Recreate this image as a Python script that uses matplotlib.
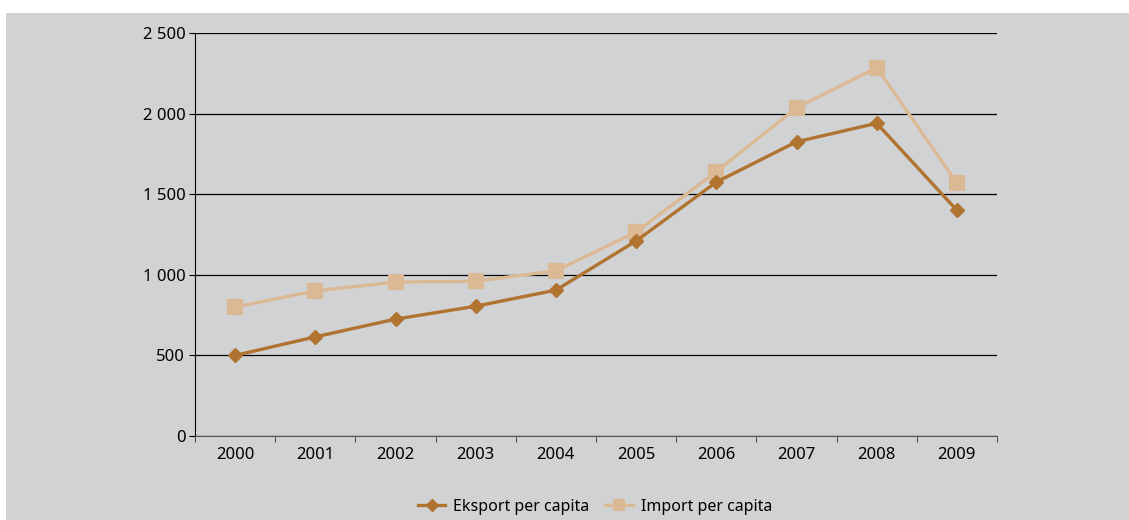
import numpy as np
import matplotlib.pyplot as plt
from matplotlib.patches import Rectangle
from matplotlib.ticker import FuncFormatter

years = ['2000', '2001', '2002', '2003', '2004', '2005', '2006', '2007', '2008', '2009']
eksport = [500, 615, 725, 805, 905, 1210, 1575, 1825, 1940, 1400]
import_ = [800, 900, 955, 960, 1025, 1265, 1640, 2035, 2285, 1570]

plt.rcParams['font.family'] = ['Noto Sans', 'DejaVu Sans']

BG = '#d1d2d4'
C_EKS = '#b07330'
C_IMP = '#dcb995'

fig = plt.figure(figsize=(11.29, 5.2), dpi=100)
fig.patch.set_facecolor('white')
fig.patches.append(Rectangle((6 / 1129, 0), 1, 1 - 13 / 520, transform=fig.transFigure,
                             facecolor=BG, edgecolor='none', zorder=-10))

ax = fig.add_axes([195 / 1129, 1 - 436 / 520, 802 / 1129, 403 / 520])
ax.set_facecolor('none')

x = np.arange(len(years))
ax.plot(x, eksport, color=C_EKS, lw=2.4, marker='D', ms=7.5, mec=C_EKS,
        label='Eksport per capita', zorder=4)
ax.plot(x, import_, color=C_IMP, lw=2.4, marker='s', ms=9.5, mec=C_IMP, mew=1.5,
        label='Import per capita', zorder=3)

ax.set_ylim(0, 2500)
ax.set_yticks(np.arange(0, 2501, 500))
ax.yaxis.set_major_formatter(FuncFormatter(lambda v, p: f'{int(v):,}'.replace(',', ' ')))
ax.set_xlim(-0.5, len(years) - 0.5)
ax.set_xticks(x)
ax.set_xticklabels(years)
ax.set_xticks(np.arange(-0.5, len(years)), minor=True)
ax.tick_params(axis='x', which='major', length=0, pad=8, labelsize=12)
ax.tick_params(axis='x', which='minor', length=4, direction='out', color='#333333')
ax.tick_params(axis='y', length=4, direction='out', labelsize=12, pad=3)

ax.grid(axis='y', color='black', lw=0.9)
ax.set_axisbelow(True)
for s in ['top', 'right']:
    ax.spines[s].set_visible(False)
ax.spines['left'].set_color('black')
ax.spines['bottom'].set_color('#555555')

fig.legend(loc='center', bbox_to_anchor=(595 / 1129, 1 - 507 / 520), ncol=2,
           frameon=False, fontsize=11.5, handlelength=1.7, columnspacing=1.0,
           handletextpad=0.5, markerscale=0.8)

fig.savefig('out.png', dpi=100)
